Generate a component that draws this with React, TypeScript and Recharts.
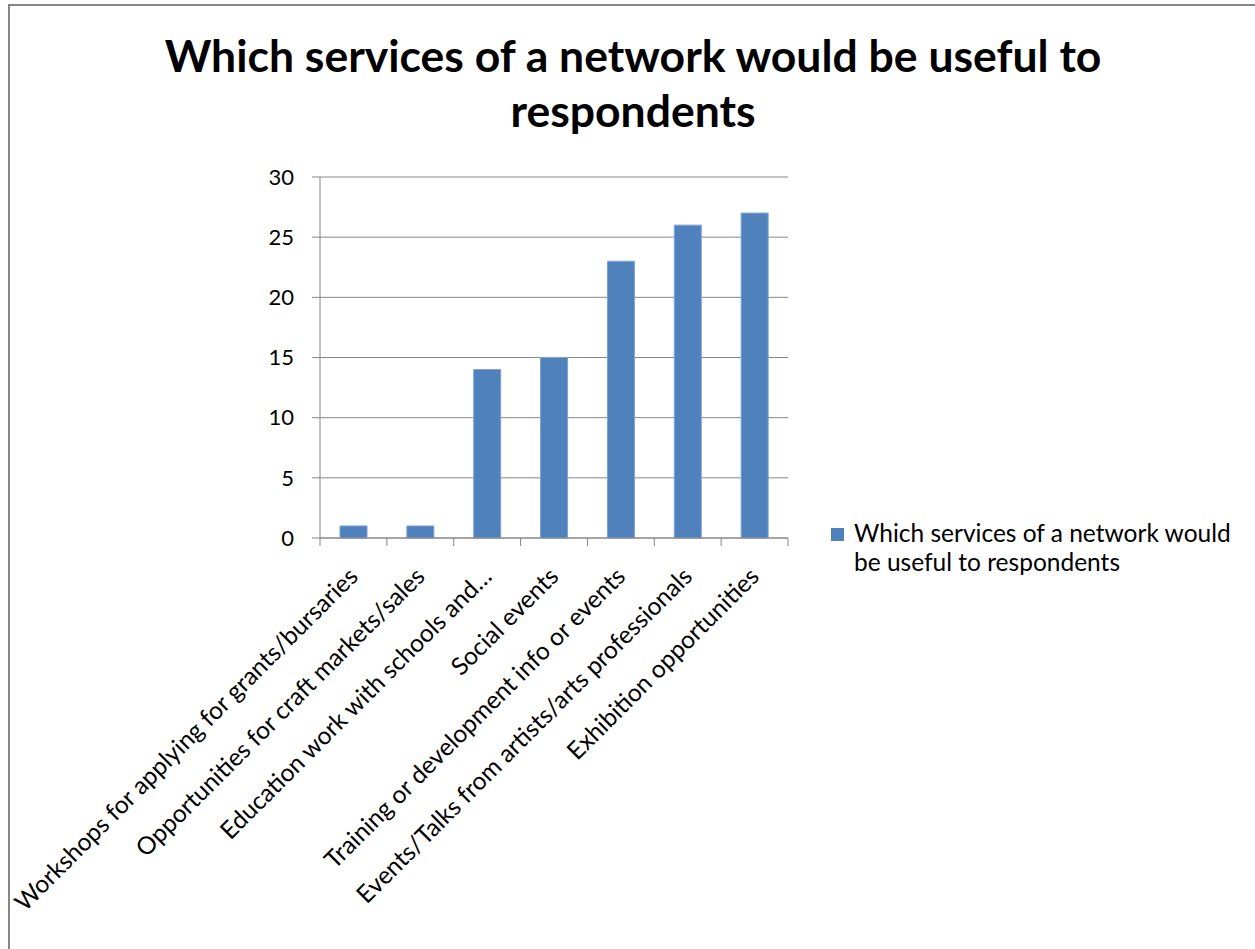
import React from 'react';
import { BarChart, Bar, XAxis, YAxis, CartesianGrid } from 'recharts';

const categories = [
  'Workshops for applying for grants/bursaries',
  'Opportunities for craft markets/sales',
  'Education work with schools and…',
  'Social events',
  'Training or development info or events',
  'Events/Talks from artists/arts professionals',
  'Exhibition opportunities',
];
const responses = [1, 1, 14, 15, 23, 26, 27];
const yTicks = [0, 5, 10, 15, 20, 25, 30];
const seriesName = 'Which services of a network would be useful to respondents';
const titleLines = ['Which services of a network would be useful to', 'respondents'];

const data = categories.map((name, i) => ({ name, value: responses[i] }));

const W = 1255;
const H = 949;
const plotLeft = 320;
const plotRight = 788;
const plotTop = 177;
const plotBottom = 538;
const band = (plotRight - plotLeft) / categories.length;
const axisColor = '#868686';
const barColor = '#4f81bd';
const font = 'Lato, "Open Sans", sans-serif';

const CategoryTick = (props: any) => {
  const { x, y, payload, index } = props;
  const left = x - band / 2;
  return (
    <g>
      <line x1={left} y1={plotBottom} x2={left} y2={plotBottom + 8} stroke={axisColor} />
      {index === categories.length - 1 && (
        <line x1={left + band} y1={plotBottom} x2={left + band} y2={plotBottom + 8} stroke={axisColor} />
      )}
      <text
        x={x + 6}
        y={y}
        textAnchor="end"
        fontSize={24.5}
        fontFamily={font}
        fill="#000"
        transform={`rotate(-45, ${x + 6}, ${y})`}
      >
        {payload.value}
      </text>
    </g>
  );
};

export default function App() {
  return (
    <div style={{ position: 'absolute', left: 0, top: 0, width: W, height: H, overflow: 'hidden', background: '#fff' }}>
      <div
        style={{
          position: 'absolute',
          left: 8,
          top: 4,
          width: W + 20,
          height: H + 20,
          borderTop: `2px solid ${axisColor}`,
          borderLeft: `2px solid ${axisColor}`,
        }}
      />
      <svg width={W} height={150} style={{ position: 'absolute', left: 0, top: 0 }}>
        {titleLines.map((line, i) => (
          <text key={i} x={633} y={72 + i * 55} textAnchor="middle" fontFamily={font} fontWeight={700} fontSize={44.5} fill="#000">
            {line}
          </text>
        ))}
      </svg>
      <div style={{ position: 'absolute', left: 0, top: 0 }}>
        <BarChart
          width={W}
          height={H}
          data={data}
          margin={{ top: plotTop, right: W - plotRight, bottom: 0, left: 0 }}
          barSize={27}
        >
          <CartesianGrid vertical={false} stroke={axisColor} />
          <XAxis
            dataKey="name"
            height={H - plotBottom}
            interval={0}
            tickLine={false}
            axisLine={{ stroke: axisColor }}
            tick={<CategoryTick />}
            tickMargin={34}
          />
          <YAxis
            width={plotLeft}
            domain={[0, 30]}
            ticks={yTicks}
            tickSize={8}
            tickMargin={18}
            axisLine={{ stroke: axisColor }}
            tickLine={{ stroke: axisColor }}
            tick={{ fontSize: 22, fontFamily: font, fill: '#000' }}
          />
          <Bar dataKey="value" name={seriesName} fill={barColor} stroke="#7ea2d2" strokeWidth={1} isAnimationActive={false} />
        </BarChart>
      </div>
      <div
        style={{
          position: 'absolute',
          left: 831,
          top: 518,
          display: 'flex',
          alignItems: 'flex-start',
          fontFamily: font,
          fontSize: 24.5,
          lineHeight: '29px',
          color: '#000',
        }}
      >
        <span style={{ width: 13, height: 13, background: barColor, marginTop: 10, marginRight: 10, flexShrink: 0 }} />
        <span style={{ width: 390 }}>{seriesName}</span>
      </div>
    </div>
  );
}
